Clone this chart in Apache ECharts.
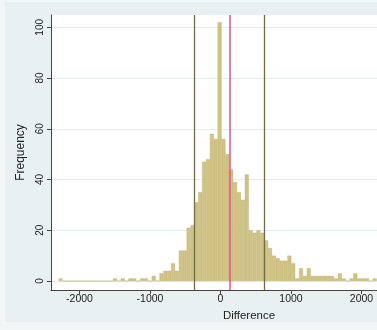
<!DOCTYPE html>
<html>
<head>
<meta charset="utf-8">
<script src="https://cdn.jsdelivr.net/npm/echarts@6/dist/echarts.min.js"></script>
<style>
  html, body { margin: 0; padding: 0; background: #f2f6f7; }
  #chart { width: 377px; height: 330px; }
</style>
</head>
<body>
<div id="chart"></div>
<script>
// histogram bins: first bin starts at binStart, each bin is binWidth wide
const binStart = -2295;
const binWidth = 55;
const counts = [
  1, 0, 0, 0, 0, 0, 0, 0, 0, 0, 0, 0, 0, 0, 1, 0, 1, 0, 1, 1,
  0, 1, 1, 0, 2, 0, 3, 4, 4, 7, 4, 12, 12, 21, 22, 31, 35, 47, 48, 58,
  56, 102, 56, 50, 44, 39, 35, 32, 42, 20, 19, 20, 19, 16, 13, 10, 9, 8, 8, 10,
  7, 1, 5, 2, 5, 2, 2, 2, 2, 2, 2, 1, 3, 1, 0, 1, 3, 1, 1, 1,
  0, 1
];

// reference lines: mean and mean +/- sd
const meanLine = 125;
const sdLines = [-371, 621];

const xTicks = [-2000, -1000, 0, 1000, 2000, 3000];
const yTicks = [0, 20, 40, 60, 80, 100];

const barData = counts.map((c, i) => [binStart + binWidth * (i + 0.5), c]);

const chart = echarts.init(document.getElementById("chart"), null, { renderer: "canvas" });

chart.setOption({
  animation: false,
  backgroundColor: "#f2f6f7",
  graphic: [
    {
      type: "rect",
      z: -10,
      silent: true,
      shape: { x: 5, y: 2, width: 372, height: 320 },
      style: { fill: "#e9f0f1" }
    }
  ],
  grid: {
    left: 51,
    right: -70,
    top: 15,
    bottom: 40,
    outerBoundsMode: "none",
    containLabel: false,
    show: true,
    backgroundColor: "#ffffff",
    borderWidth: 0
  },
  xAxis: {
    type: "value",
    min: -2404,
    max: 3213,
    name: "Difference",
    nameLocation: "middle",
    nameGap: 15,
    nameTextStyle: { fontFamily: "Liberation Sans", fontSize: 11.5, color: "#222" },
    axisLine: { onZero: false, lineStyle: { color: "#444", width: 1 } },
    axisTick: { show: true, length: 4, customValues: xTicks, lineStyle: { color: "#444" } },
    axisLabel: {
      customValues: xTicks,
      formatter: (v) => String(v),
      margin: 4,
      fontFamily: "Liberation Sans",
      fontSize: 10.5,
      color: "#222"
    },
    splitLine: { show: false }
  },
  yAxis: {
    type: "value",
    min: -3.55,
    max: 104.85,
    name: "Frequency",
    nameLocation: "middle",
    nameGap: 19,
    nameRotate: 90,
    nameTextStyle: { fontFamily: "Liberation Sans", fontSize: 12, color: "#222" },
    axisLine: { show: true, onZero: false, lineStyle: { color: "#444", width: 1 } },
    axisTick: { show: true, length: 4, customValues: yTicks, lineStyle: { color: "#444" } },
    axisLabel: {
      customValues: yTicks,
      formatter: (v) => String(v),
      rotate: 90,
      margin: 6,
      fontFamily: "Liberation Sans",
      fontSize: 10,
      color: "#222"
    },
    splitLine: { show: true, lineStyle: { color: "#e4ecee", width: 1 } }
  },
  series: [
    {
      type: "bar",
      data: barData,
      barWidth: 3.88,
      itemStyle: { color: "#d0c383", borderColor: "#bcae6e", borderWidth: 0.4 },
      markLine: {
        silent: true,
        symbol: ["none", "none"],
        label: { show: false },
        animation: false,
        data: [
          { xAxis: sdLines[0], lineStyle: { color: "#706c45", width: 1.3, type: "solid" } },
          { xAxis: meanLine, lineStyle: { color: "#e8508f", width: 1.5, type: "solid" } },
          { xAxis: sdLines[1], lineStyle: { color: "#706c45", width: 1.3, type: "solid" } }
        ]
      }
    }
  ]
});
</script>
</body>
</html>
